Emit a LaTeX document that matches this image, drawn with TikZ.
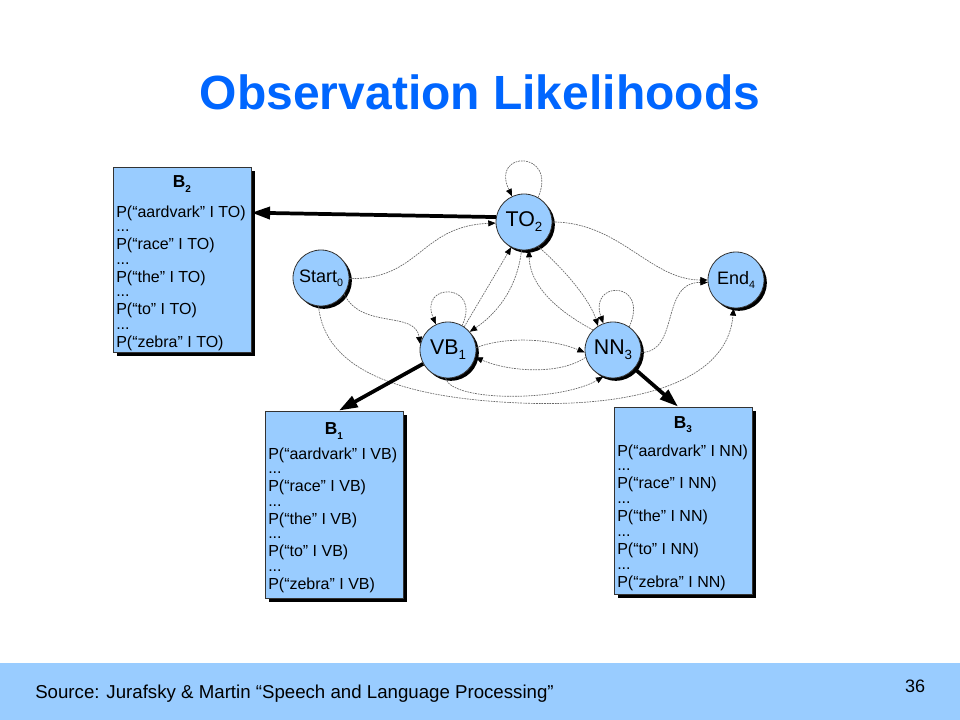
\documentclass[tikz,border=0pt]{standalone}
\usepackage{fontspec}
\setmainfont{Liberation Sans}
\usetikzlibrary{arrows.meta,shadows,calc}
\definecolor{nodeblue}{RGB}{153,204,255}
\definecolor{titleblue}{RGB}{0,102,255}
\definecolor{footblue}{RGB}{153,204,255}
\newcommand{\mysub}[2][10]{\raisebox{-0.45ex}{\fontsize{#1}{#1}\selectfont #2}}
\tikzset{
 state/.style={circle, minimum size=42pt, inner sep=0pt, fill=nodeblue, draw=black!80, line width=0.6pt,
   drop shadow={shadow xshift=2.1pt, shadow yshift=-2.1pt, fill=black, opacity=1},
   font=\fontsize{16}{18}\selectfont},
 smallstate/.style={state, font=\fontsize{13.5}{15}\selectfont},
 probbox/.style={rectangle, minimum width=103.5pt, minimum height=140pt, inner sep=0pt, fill=nodeblue,
   draw=black!80, line width=0.6pt,
   drop shadow={shadow xshift=3pt, shadow yshift=-3pt, fill=black, opacity=1}},
 boxhead/.style={font=\fontsize{13}{14}\selectfont\bfseries, inner sep=0pt},
 boxline/.style={anchor=west, font=\fontsize{12}{14}\selectfont, inner sep=0pt},
 trans/.style={draw=black!60, line width=0.5pt, dash pattern=on 1.3pt off 0.7pt,
   -{Triangle[length=5.5pt,width=4.5pt,black]}},
 emit/.style={line width=2.8pt, -{Triangle[length=14pt,width=9pt]}},
}
\begin{document}
\begin{tikzpicture}[x=0.75pt,y=-0.75pt]
\useasboundingbox (0,0) rectangle (960,720);
% footer band
\fill[footblue] (0,663) rectangle (960,720);
\node[anchor=west, font=\fontsize{14}{16}\selectfont, inner sep=0pt] (src) at (35,694)
  {Source: Jurafsky \& Martin “Speech and Language Processing”};
\node[font=\fontsize{13.5}{16}\selectfont, inner sep=0pt] (pg) at (915,686) {36};
% title
\node[font=\fontsize{36}{40}\selectfont\bfseries, text=titleblue, inner sep=0pt] (title) at (480,92)
  {Observation Likelihoods};
% boxes
\node[probbox, minimum height=138.75pt] (B2) at (182,259.5) {};
\node[probbox, minimum height=140.25pt] (B1) at (334,504.5) {};
\node[probbox, minimum height=140.25pt] (B3) at (683,500.5) {};
\node[boxhead] (b2h) at (182,184) {B\mysub[7.5]{2}};
\node[boxhead] (b1h) at (334,431) {B\mysub[7.5]{1}};
\node[boxhead] (b3h) at (683,425) {B\mysub[7.5]{3}};
\foreach \w [count=\i] in {aardvark,race,the,to,zebra} {
  \node[boxline] (b2l\i) at (116,{213+32.5*(\i-1)}) {P(“\w” I TO)};
  \node[boxline] (b1l\i) at (268,{455+32.5*(\i-1)}) {P(“\w” I VB)};
  \node[boxline] (b3l\i) at (617,{452+32.75*(\i-1)}) {P(“\w” I NN)};
}
\foreach \i in {1,...,4} {
  \node[boxline] (b2d\i) at (116,{231+32.5*(\i-1)}) {...};
  \node[boxline] (b1d\i) at (268,{473+32.5*(\i-1)}) {...};
  \node[boxline] (b3d\i) at (617,{470+32.75*(\i-1)}) {...};
}
% states
\node[state] (TO) at (524,222) {TO\mysub{2}};
\node[smallstate] (S) at (321,278) {Start\mysub[8]{0}};
\node[smallstate] (E) at (736,280) {End\mysub[8]{4}};
\node[state] (VB) at (448,350) {VB\mysub{1}};
\node[state] (NN) at (613,350) {NN\mysub{3}};
% transitions
\draw[trans] (TO.60) .. controls (558,150) and (490,150) .. (TO.115);
\draw[trans] (VB.60) .. controls (482,282) and (418,282) .. (VB.115);
\draw[trans] (NN.55) .. controls (650,280) and (588,280) .. (NN.110);
\draw[trans] (S) .. controls (420,280) and (420,226) .. (TO);
\draw[trans] (S.-35) .. controls (362,330) and (415,310) .. (VB.168);
\draw[trans] (S.265) .. controls (325,370) and (400,398) .. (520,403)
   .. controls (640,408) and (728,380) .. (E.265);
\draw[trans] (VB.265) .. controls (452,402) and (560,402) .. (NN.250);
\draw[trans] (VB.5) .. controls (510,335) and (555,340) .. (NN.185);
\draw[trans] (NN.195) .. controls (560,375) and (510,372) .. (VB.-15);
\draw[trans] (VB.55) .. controls (480,300) and (495,275) .. (TO.243);
\draw[trans] (TO.265) .. controls (517,290) and (495,315) .. (VB.40);
\draw[trans] (NN.135) .. controls (565,315) and (530,290) .. (TO.280);
\draw[trans] (TO.300) .. controls (565,270) and (590,300) .. (NN.122);
\draw[trans] (TO.east) .. controls (620,222) and (650,280) .. (E.180);
\draw[trans] (NN.-5) .. controls (680,352) and (660,282) .. (E.185);
% emissions
\draw[emit] (TO.170) -- (B2.34);
\draw[emit] (VB) -- (B1.87);
\draw[emit] (NN) -- (B3.93);
\end{tikzpicture}
\end{document}
